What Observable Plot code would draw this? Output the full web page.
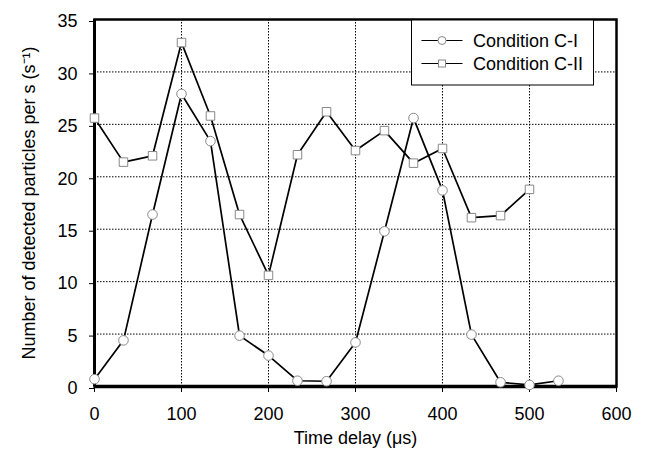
<!DOCTYPE html>
<html><head>
<meta charset="utf-8">
<script src="https://cdn.jsdelivr.net/npm/d3@7"></script>
<script src="https://cdn.jsdelivr.net/npm/@observablehq/plot@0.6"></script>
<style>body{margin:0;background:#fff}</style>
</head><body><div id="chart"></div>
<script>
const timeCI = [0, 33.3, 66.7, 100, 133.3, 166.7, 200, 233.3, 266.7, 300, 333.3, 366.7, 400, 433.3, 466.7, 500, 533.3];
const valuesCI = [0.7, 4.4, 16.4, 27.9, 23.4, 4.85, 2.95, 0.55, 0.5, 4.2, 14.8, 25.6, 18.7, 4.95, 0.4, 0.15, 0.55];
const timeCII = [0, 33.3, 66.7, 100, 133.3, 166.7, 200, 233.3, 266.7, 300, 333.3, 366.7, 400, 433.3, 466.7, 500];
const valuesCII = [25.6, 21.4, 22.0, 32.8, 25.8, 16.4, 10.6, 22.1, 26.2, 22.5, 24.4, 21.3, 22.7, 16.1, 16.3, 18.8];
const xTicks = [0, 100, 200, 300, 400, 500, 600];
const yTicks = [0, 5, 10, 15, 20, 25, 30, 35];
const seriesNames = ["Condition C-I", "Condition C-II"];

const ci = timeCI.map((t, i) => ({t, v: valuesCI[i]}));
const cii = timeCII.map((t, i) => ({t, v: valuesCII[i]}));

const W = 646, H = 455;
const mL = 94, mR = 30, mT = 19, mB = 69;

const plot = Plot.plot({
  width: W, height: H,
  marginLeft: mL, marginRight: mR, marginTop: mT, marginBottom: mB,
  style: {fontFamily: "'Liberation Sans', Arial, sans-serif", fontSize: "18px", background: "#fff", color: "#000"},
  x: {domain: [0, 600], ticks: xTicks},
  y: {domain: [0, 35], ticks: yTicks},
  marks: [
    Plot.gridX(xTicks, {stroke: "#000", strokeOpacity: 1, strokeDasharray: "1.5,1.5", strokeWidth: 1}),
    Plot.gridY(yTicks, {stroke: "#000", strokeOpacity: 1, strokeDasharray: "1.5,1.5", strokeWidth: 1}),
    Plot.axisX(xTicks, {tickSize: 6, tickPadding: 15, label: "Time delay (μs)", labelAnchor: "center", labelArrow: "none", labelOffset: 57, tickFormat: d => d}),
    Plot.axisY(yTicks, {tickSize: 5, tickPadding: 12, dy: 2, label: "Number of detected particles per s (s⁻¹)", labelAnchor: "center", labelArrow: "none", labelOffset: 72, tickFormat: d => d}),
    Plot.frame({stroke: "#000", strokeWidth: 2.5}),
    Plot.ruleX([0], {stroke: "#000", strokeWidth: 3}),
    Plot.ruleY([0], {stroke: "#000", strokeWidth: 3.5}),
    Plot.line(cii, {x: "t", y: "v", stroke: "#000", strokeWidth: 1.7}),
    Plot.line(ci, {x: "t", y: "v", stroke: "#000", strokeWidth: 1.7}),
    Plot.dot(cii, {x: "t", y: "v", symbol: "square", r: 4.8, fill: "#fff", stroke: "#888", strokeWidth: 1}),
    Plot.dot(ci, {x: "t", y: "v", symbol: "circle", r: 4.8, fill: "#fff", stroke: "#888", strokeWidth: 1})
  ]
});
document.getElementById("chart").appendChild(plot);

// legend
const svg = d3.select(plot);
const lx = 411.5, ly = 20, lw = 182, lh = 65;
const g = svg.append("g").attr("text-anchor", "start");
g.append("rect").attr("x", lx).attr("y", ly).attr("width", lw).attr("height", lh)
  .attr("fill", "#fff").attr("stroke", "#000").attr("stroke-width", 1);
seriesNames.forEach((name, i) => {
  const yy = ly + 20.5 + i * 23;
  g.append("line").attr("x1", lx + 10).attr("x2", lx + 51).attr("y1", yy).attr("y2", yy)
    .attr("stroke", "#000").attr("stroke-width", 1);
  if (i === 0) {
    g.append("circle").attr("cx", lx + 30.5).attr("cy", yy).attr("r", 4).attr("fill", "#fff").attr("stroke", "#888");
  } else {
    g.append("rect").attr("x", lx + 27).attr("y", yy - 3.5).attr("width", 7).attr("height", 7).attr("fill", "#fff").attr("stroke", "#888");
  }
  g.append("text").attr("x", lx + 61.5).attr("y", yy).attr("dy", "0.35em")
    .attr("font-size", 18).attr("fill", "#000").text(name);
});
</script>
</body></html>
